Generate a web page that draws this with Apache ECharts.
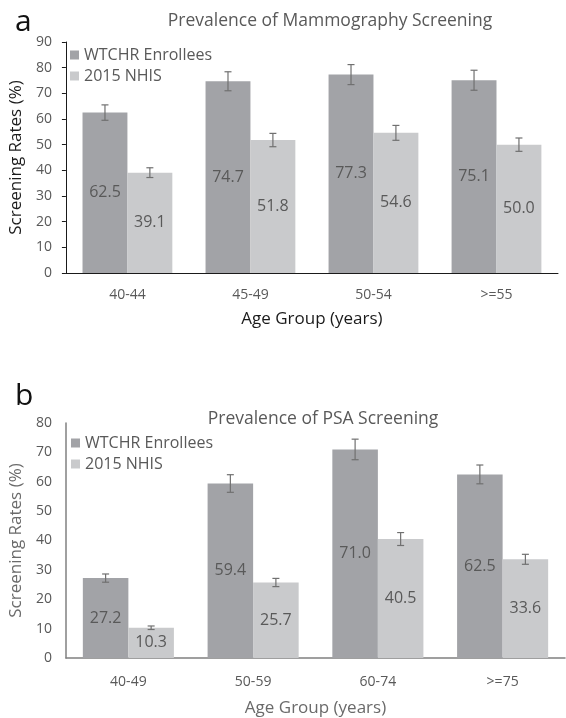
<!DOCTYPE html>
<html>
<head>
<meta charset="utf-8">
<script src="https://cdn.jsdelivr.net/npm/echarts@6/dist/echarts.min.js"></script>
<style>
html,body{margin:0;padding:0;background:#fff;}
#chart{width:566px;height:718px;}
</style>
</head>
<body>
<div id="chart"></div>
<script>
// panel a: mammography
var mammoAges = ['40-44', '45-49', '50-54', '>=55'];
var mammoWtchr = [62.5, 74.7, 77.3, 75.1];
var mammoNhis = [39.1, 51.8, 54.6, 50.0];
var mammoWtchrErr = [3.0, 3.7, 3.9, 3.9];
var mammoNhisErr = [1.9, 2.6, 2.9, 2.6];
var mammoTicks = [0, 90, 10];

// panel b: PSA
var psaAges = ['40-49', '50-59', '60-74', '>=75'];
var psaWtchr = [27.2, 59.4, 71.0, 62.5];
var psaNhis = [10.3, 25.7, 40.5, 33.6];
var psaWtchrErr = [1.4, 3.0, 3.5, 3.2];
var psaNhisErr = [0.6, 1.4, 2.2, 1.7];
var psaTicks = [0, 80, 10];

var darkCol = '#a2a3a7';
var lightCol = '#c9cacc';
var textCol = '#595959';
var font = 'Open Sans';
var catGap = 0.27;

function errData(vals, errs) {
	return vals.map(function (v, i) { return [i, v - errs[i], v + errs[i]]; });
}

// side: -1 left bar, +1 right bar
function errRender(side) {
	return function (params, api) {
		var i = api.value(0);
		var lo = api.coord([i, api.value(1)]);
		var hi = api.coord([i, api.value(2)]);
		var band = api.size([1, 0])[0];
		var bw = band * (1 - catGap) / 2;
		var x = lo[0] + side * bw / 2;
		var cap = 3.5;
		var st = {stroke: '#707070', lineWidth: 1.2};
		return {
			type: 'group',
			children: [
				{type: 'line', shape: {x1: x, y1: lo[1], x2: x, y2: hi[1]}, style: st},
				{type: 'line', shape: {x1: x - cap, y1: lo[1], x2: x + cap, y2: lo[1]}, style: st},
				{type: 'line', shape: {x1: x - cap, y1: hi[1], x2: x + cap, y2: hi[1]}, style: st}
			]
		};
	};
}

var barLabel = {
	show: true, position: 'inside', color: textCol, fontSize: 16, fontFamily: font,
	formatter: function (p) { return p.value.toFixed(1); }
};

function barSeries(name, data, idx, color) {
	return {
		name: name, type: 'bar', data: data,
		xAxisIndex: idx, yAxisIndex: idx,
		barGap: 0, barCategoryGap: (catGap * 100) + '%',
		itemStyle: {color: color},
		label: barLabel,
		emphasis: {disabled: true}
	};
}

function errSeries(data, idx, side) {
	return {
		type: 'custom', data: data,
		xAxisIndex: idx, yAxisIndex: idx,
		renderItem: errRender(side),
		encode: {x: 0, y: [1, 2]},
		z: 5, silent: true
	};
}

var myChart = echarts.init(document.getElementById('chart'));

var legendText = {fontSize: 16, color: textCol, fontFamily: font};

var option = {
	animation: false,
	textStyle: {fontFamily: font},
	title: [
		{text: 'a', left: 10, top: 2, textStyle: {fontSize: 30, fontWeight: 'normal', color: '#111', fontFamily: font}},
		{text: 'Prevalence of Mammography Screening', left: 325, textAlign: 'center', top: 7, textStyle: {fontSize: 17.5, fontWeight: 'normal', color: textCol, fontFamily: font}},
		{text: 'b', left: 10, top: 376, textStyle: {fontSize: 30, fontWeight: 'normal', color: '#111', fontFamily: font}},
		{text: 'Prevalence of PSA Screening', left: 318, textAlign: 'center', top: 405, textStyle: {fontSize: 17.5, fontWeight: 'normal', color: textCol, fontFamily: font}}
	],
	legend: [
		{
			data: ['WTCHR Enrollees', '2015 NHIS'], orient: 'vertical', left: 65, top: 42,
			icon: 'rect', itemWidth: 9, itemHeight: 9, itemGap: 5,
			textStyle: legendText
		},
		{
			data: ['WTCHR Enrollees', '2015 NHIS'], orient: 'vertical', left: 66, top: 430,
			icon: 'rect', itemWidth: 9, itemHeight: 9, itemGap: 5,
			textStyle: legendText
		}
	],
	grid: [
		{left: 64, right: 8, top: 42, height: 231},
		{left: 57, right: 1, top: 423, height: 239}
	],
	xAxis: [
		{
			type: 'category', gridIndex: 0, data: mammoAges,
			axisLine: {lineStyle: {color: '#1a1a1a', width: 1}},
			axisTick: {length: 5, lineStyle: {color: '#1a1a1a'}},
			axisLabel: {color: textCol, fontSize: 14, margin: 15},
			name: 'Age Group (years)', nameLocation: 'middle', nameGap: 38,
			nameTextStyle: {fontSize: 17, color: '#1a1a1a'}
		},
		{
			type: 'category', gridIndex: 1, data: psaAges,
			axisLine: {lineStyle: {color: '#808080', width: 1.5}},
			axisTick: {length: 4, lineStyle: {color: '#333'}},
			axisLabel: {color: textCol, fontSize: 14, margin: 17},
			name: 'Age Group (years)', nameLocation: 'middle', nameGap: 42,
			nameTextStyle: {fontSize: 17, color: '#6a6a6a'}
		}
	],
	yAxis: [
		{
			type: 'value', gridIndex: 0, min: mammoTicks[0], max: mammoTicks[1], interval: mammoTicks[2],
			axisLine: {show: true, lineStyle: {color: '#1a1a1a'}},
			axisTick: {show: true, length: 4, lineStyle: {color: '#1a1a1a'}},
			axisLabel: {color: textCol, fontSize: 14, margin: 14},
			splitLine: {show: false},
			name: 'Screening Rates (%)', nameLocation: 'middle', nameGap: 33,
			nameTextStyle: {fontSize: 17, color: '#1a1a1a'}
		},
		{
			type: 'value', gridIndex: 1, min: psaTicks[0], max: psaTicks[1], interval: psaTicks[2],
			axisLine: {show: true, lineStyle: {color: '#808080', width: 1.5}},
			axisTick: {show: false},
			axisLabel: {color: textCol, fontSize: 14, margin: 14},
			splitLine: {show: false},
			name: 'Screening Rates (%)', nameLocation: 'middle', nameGap: 41,
			nameTextStyle: {fontSize: 17, color: '#6a6a6a'}
		}
	],
	series: [
		barSeries('WTCHR Enrollees', mammoWtchr, 0, darkCol),
		barSeries('2015 NHIS', mammoNhis, 0, lightCol),
		errSeries(errData(mammoWtchr, mammoWtchrErr), 0, -1),
		errSeries(errData(mammoNhis, mammoNhisErr), 0, 1),
		barSeries('WTCHR Enrollees', psaWtchr, 1, darkCol),
		barSeries('2015 NHIS', psaNhis, 1, lightCol),
		errSeries(errData(psaWtchr, psaWtchrErr), 1, -1),
		errSeries(errData(psaNhis, psaNhisErr), 1, 1)
	]
};

myChart.setOption(option);
</script>
</body>
</html>
